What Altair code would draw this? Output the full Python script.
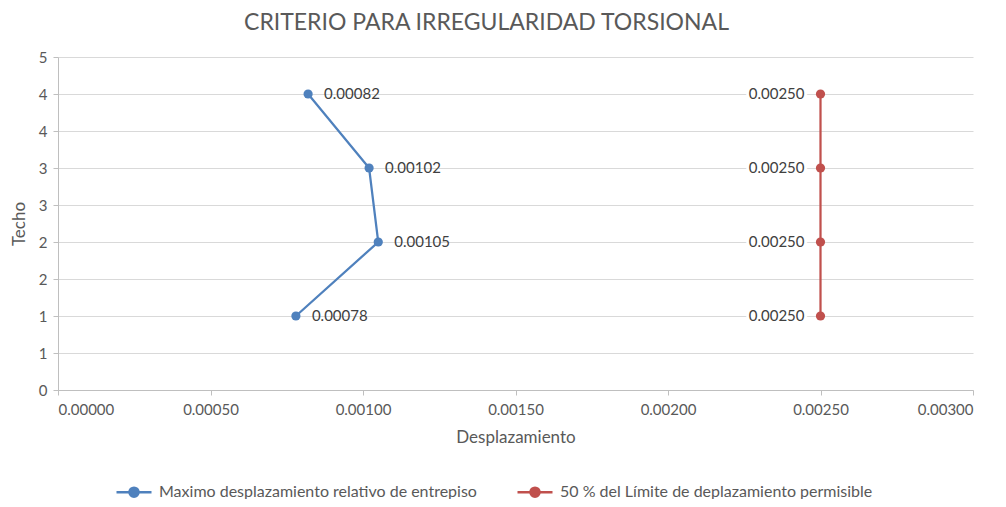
import altair as alt
import pandas as pd

pisos = [1, 2, 3, 4]
maximo = [0.00078, 0.00105, 0.00102, 0.00082]
limite = [0.00250, 0.00250, 0.00250, 0.00250]
serie_max = "Maximo desplazamiento relativo de entrepiso"
serie_lim = "50 % del Límite de deplazamiento permisible"
x_ticks = [0.0, 0.0005, 0.001, 0.0015, 0.002, 0.0025, 0.003]
y_ticks = [0, 0.5, 1, 1.5, 2, 2.5, 3, 3.5, 4, 4.5]

rows = []
for p, v in zip(pisos, maximo):
    rows.append({"piso": p, "desp": v, "serie": serie_max, "lado": "der"})
for p, v in zip(pisos, limite):
    rows.append({"piso": p, "desp": v, "serie": serie_lim, "lado": "izq"})
df = pd.DataFrame(rows)

FONT = "Lato"
BLUE = "#4F81BD"
RED = "#C0504D"

color = alt.Color(
    "serie:N",
    scale=alt.Scale(domain=[serie_max, serie_lim], range=[BLUE, RED]),
    legend=alt.Legend(
        title=None,
        orient="none",
        direction="horizontal",
        legendX=57,
        legendY=416,
        symbolType="M-1,0L1,0M-0.26,0A0.26,0.26 0 1,1 0.26,0A0.26,0.26 0 1,1 -0.26,0",
        symbolSize=1225,
        symbolStrokeWidth=2.5,
        labelFont=FONT,
        labelFontSize=16,
        labelColor="#595959",
        labelOffset=6,
        columnPadding=35,
        labelLimit=500,
    ),
)

x = alt.X(
    "desp:Q",
    title="Desplazamiento",
    scale=alt.Scale(domain=[0, 0.003], nice=False, zero=True),
    axis=alt.Axis(
        values=x_ticks,
        format=".5f",
        grid=False,
        domainColor="#bfbfbf",
        tickColor="#bfbfbf",
        tickSize=5,
        labelFont=FONT,
        labelFontSize=15,
        labelColor="#595959",
        labelPadding=7,
        titleFont=FONT,
        titleFontSize=17,
        titleFontWeight="normal",
        titleColor="#595959",
        titlePadding=12,
    ),
)
y = alt.Y(
    "piso:Q",
    title="Techo",
    scale=alt.Scale(domain=[0, 4.5], nice=False),
    axis=alt.Axis(
        values=y_ticks,
        labelExpr="floor(datum.value + 0.5)",
        grid=True,
        gridColor="#d9d9d9",
        domainColor="#bfbfbf",
        tickColor="#bfbfbf",
        tickSize=5,
        labelFont=FONT,
        labelFontSize=15,
        labelColor="#595959",
        labelPadding=6,
        titleFont=FONT,
        titleFontSize=17,
        titleFontWeight="normal",
        titleColor="#595959",
        titlePadding=10,
    ),
)

base = alt.Chart(df)

lines = base.mark_line(strokeWidth=2.25).encode(
    x=x, y=y, color=color, detail="serie:N", order="piso:Q"
)
points = base.mark_point(filled=True, size=85, opacity=1).encode(
    x=x, y=y,
    color=alt.Color("serie:N", scale=alt.Scale(domain=[serie_max, serie_lim], range=[BLUE, RED]), legend=None),
)

lab_der = base.transform_filter(alt.datum.lado == "der").mark_text(
    align="left", dx=16, font=FONT, fontSize=15, color="#404040"
).encode(x=x, y=y, text=alt.Text("desp:Q", format=".5f"))

lab_izq_bg = base.transform_filter(alt.datum.lado == "izq").mark_text(
    align="right", dx=-16, font=FONT, fontSize=15, color="white",
    stroke="white", strokeWidth=6
).encode(x=x, y=y, text=alt.Text("desp:Q", format=".5f"))

lab_izq = base.transform_filter(alt.datum.lado == "izq").mark_text(
    align="right", dx=-16, font=FONT, fontSize=15, color="#404040"
).encode(x=x, y=y, text=alt.Text("desp:Q", format=".5f"))

chart = alt.layer(lines, points, lab_der, lab_izq_bg, lab_izq).properties(
    width=915,
    height=333,
    autosize=alt.AutoSizeParams(type="none"),
    padding={"left": 50, "top": 49, "right": 25, "bottom": 109},
    title=alt.TitleParams(
        "CRITERIO PARA IRREGULARIDAD TORSIONAL",
        font=FONT,
        fontSize=23,
        fontWeight="normal",
        color="#595959",
        anchor="middle",
        offset=15,
        dx=-29,
    ),
).configure_view(stroke=None)

chart.save("out.html", embed_options={"renderer": "svg", "actions": False})
